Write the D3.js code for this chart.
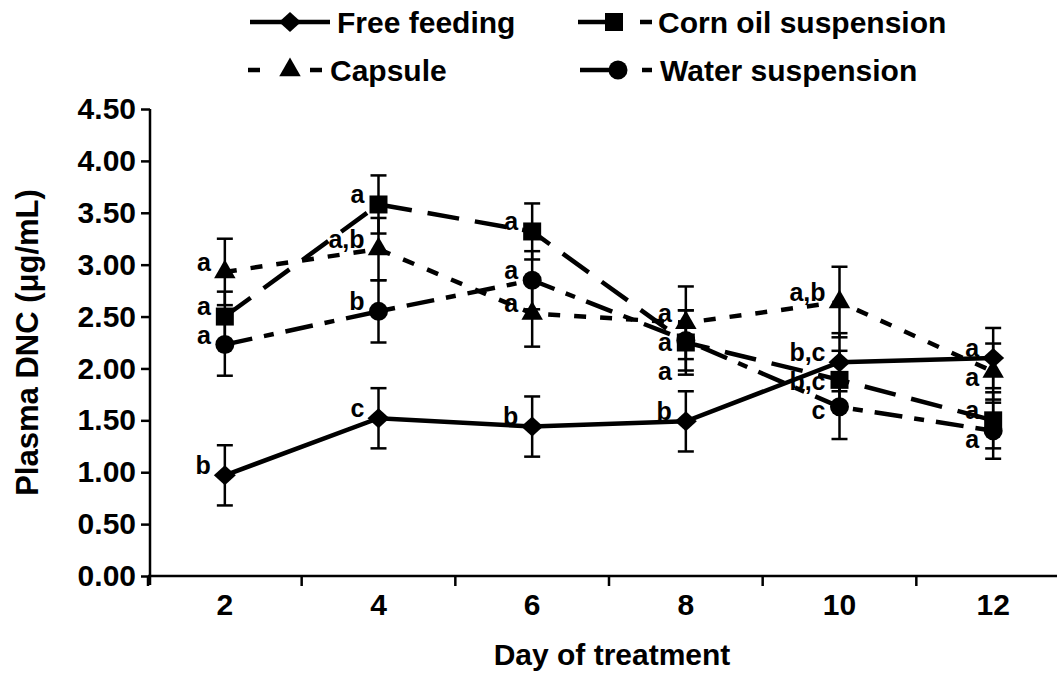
<!DOCTYPE html>
<html>
<head>
<meta charset="utf-8">
<script src="https://cdn.jsdelivr.net/npm/d3@7"></script>
<style>
    body { margin: 0; background: #fff; }
    svg text { font-family: "Liberation Sans", Arial, sans-serif; font-weight: bold; fill: #000; }
</style>
</head>
<body>
<div id="chart"></div>
<script>
// Data
const days = [2, 4, 6, 8, 10, 12];
const yTicks = [0, 0.5, 1, 1.5, 2, 2.5, 3, 3.5, 4, 4.5];

const freeFeeding = [0.97, 1.52, 1.44, 1.49, 2.06, 2.10];
const freeFeedingSE = [0.29, 0.29, 0.29, 0.29, 0.28, 0.29];
const freeFeedingLetters = ["b", "c", "b", "b", "b,c", "a"];

const cornOil = [2.50, 3.58, 3.32, 2.25, 1.89, 1.50];
const cornOilSE = [0.24, 0.28, 0.27, 0.31, 0.28, 0.27];
const cornOilLetters = ["a", "a", "a", "a", "b,c", "a"];

const capsule = [2.93, 3.15, 2.53, 2.44, 2.64, 1.97];
const capsuleSE = [0.32, 0.30, 0.32, 0.35, 0.34, 0.27];
const capsuleLetters = ["a", "a,b", "a", "a", "a,b", "a"];

const water = [2.23, 2.55, 2.85, 2.27, 1.63, 1.40];
const waterSE = [0.30, 0.30, 0.28, 0.29, 0.31, 0.27];
const waterLetters = ["a", "b", "a", "a", "c", "a"];

const seriesNames = ["Free feeding", "Corn oil suspension", "Capsule", "Water suspension"];

// build series table
const series = [
    { name: seriesNames[0], values: freeFeeding, se: freeFeedingSE, letters: freeFeedingLetters, marker: "diamond", dash: null, legendDash: null },
    { name: seriesNames[1], values: cornOil, se: cornOilSE, letters: cornOilLetters, marker: "square", dash: "32,16", legendDash: "44,18,12" },
    { name: seriesNames[2], values: capsule, se: capsuleSE, letters: capsuleLetters, marker: "triangle", dash: "12,14", legendDash: "12,50,12" },
    { name: seriesNames[3], values: water, se: waterSE, letters: waterLetters, marker: "circle", dash: "28,12,10,12", legendDash: "38,24,12" }
];

const W = 1057, H = 673;
const margin = { top: 109, right: 0, bottom: 97, left: 150 };

const svg = d3.select("#chart").append("svg")
    .attr("width", W)
    .attr("height", H);

// Scales
const x = d3.scaleBand()
    .domain(days)
    .range([148, 1070])
    .paddingInner(0);

const y = d3.scaleLinear()
    .domain([0, 4.5])
    .range([H - margin.bottom, margin.top]);

const cx = d => x(d) + x.bandwidth() / 2;

// Marker shapes
function markerPath(type) {
    if (type === "diamond") return "M0,-10L11,0L0,10L-11,0Z";
    if (type === "square") return "M-9,-9H9V9H-9Z";
    if (type === "triangle") return d3.symbol(d3.symbolTriangle, 200)();
    return d3.symbol(d3.symbolCircle, Math.PI * 9.5 * 9.5)();
}

// Axes
const yAxis = d3.axisLeft(y)
    .tickValues(yTicks)
    .tickFormat(d3.format(".2f"))
    .tickSize(9)
    .tickPadding(5);

const yG = svg.append("g")
    .attr("transform", "translate(" + margin.left + ",0)")
    .call(yAxis);
yG.select(".domain").remove();
yG.append("line")
    .attr("x1", 0).attr("x2", 0)
    .attr("y1", y(4.5)).attr("y2", y(0) + 9)
    .attr("stroke", "#000").attr("stroke-width", 2.5);
yG.selectAll(".tick line").attr("stroke-width", 2.5);
yG.selectAll(".tick text").style("font-size", "30px");

const xAxis = d3.axisBottom(x)
    .tickSize(0)
    .tickPadding(18);

const xG = svg.append("g")
    .attr("transform", "translate(0," + y(0) + ")")
    .call(xAxis);
xG.select(".domain").remove();
xG.append("line")
    .attr("x1", 148).attr("x2", 1070)
    .attr("stroke", "#000").attr("stroke-width", 2.5);
xG.selectAll(".bound")
    .data(days)
    .enter().append("line")
    .attr("class", "bound")
    .attr("x1", d => x(d)).attr("x2", d => x(d))
    .attr("y1", 0).attr("y2", 10)
    .attr("stroke", "#000").attr("stroke-width", 2.5);
xG.selectAll(".tick text").style("font-size", "30px");

// Axis titles
svg.append("text")
    .attr("x", 612)
    .attr("y", 665)
    .attr("text-anchor", "middle")
    .style("font-size", "30px")
    .text("Day of treatment");

svg.append("text")
    .attr("transform", "translate(38," + ((y(0) + y(4.5)) / 2) + ") rotate(-90)")
    .attr("text-anchor", "middle")
    .style("font-size", "31px")
    .text("Plasma DNC (μg/mL)");

// Lines
const line = d3.line()
    .x((d, i) => cx(days[i]))
    .y(d => y(d));

svg.selectAll(".series-line")
    .data(series)
    .enter().append("path")
    .attr("class", "series-line")
    .attr("d", s => line(s.values))
    .attr("fill", "none")
    .attr("stroke", "#000")
    .attr("stroke-width", 4.5)
    .attr("stroke-dasharray", s => s.dash);

// Error bars
const points = [];
series.forEach(s => {
    s.values.forEach((v, i) => {
        points.push({ s: s, day: days[i], v: v, se: s.se[i], letter: s.letters[i] });
    });
});

const err = svg.append("g").attr("class", "errors");
points.forEach(p => {
    const px = cx(p.day);
    err.append("line")
        .attr("x1", px).attr("x2", px)
        .attr("y1", y(p.v - p.se)).attr("y2", y(p.v + p.se))
        .attr("stroke", "#000").attr("stroke-width", 2.5);
    [p.v - p.se, p.v + p.se].forEach(e => {
        err.append("line")
            .attr("x1", px - 8).attr("x2", px + 8)
            .attr("y1", y(e)).attr("y2", y(e))
            .attr("stroke", "#000").attr("stroke-width", 2.5);
    });
});

// Markers
svg.selectAll(".marker")
    .data(points)
    .enter().append("path")
    .attr("class", "marker")
    .attr("d", p => markerPath(p.s.marker))
    .attr("transform", p => "translate(" + cx(p.day) + "," + y(p.v) + ")")
    .attr("fill", "#000");

// Significance letters, nudged apart per day so they don't overlap
days.forEach(day => {
    const group = points.filter(p => p.day === day)
        .map(p => ({ p: p, ty: y(p.v) - 10 }))
        .sort((a, b) => a.ty - b.ty);
    for (let i = 1; i < group.length; i++) {
        if (group[i].ty < group[i - 1].ty + 29) group[i].ty = group[i - 1].ty + 29;
    }
    group.forEach(g => {
        svg.append("text")
            .attr("x", cx(day) - 14)
            .attr("y", g.ty)
            .attr("dy", "0.35em")
            .attr("text-anchor", "end")
            .style("font-size", "25px")
            .text(g.p.letter);
    });
});

// Legend
const legendPos = [
    { x0: 250, x1: 330, mx: 290, tx: 337, y: 22 },
    { x0: 578, x1: 652, mx: 614, tx: 658, y: 22 },
    { x0: 248, x1: 322, mx: 290, tx: 330, y: 70 },
    { x0: 580, x1: 652, mx: 618, tx: 660, y: 70 }
];

const legend = svg.append("g").attr("class", "legend");
series.forEach((s, i) => {
    const lp = legendPos[i];
    legend.append("line")
        .attr("x1", lp.x0).attr("x2", lp.x1)
        .attr("y1", lp.y).attr("y2", lp.y)
        .attr("stroke", "#000")
        .attr("stroke-width", 4.5)
        .attr("stroke-dasharray", s.legendDash);
    legend.append("path")
        .attr("d", markerPath(s.marker))
        .attr("transform", "translate(" + lp.mx + "," + lp.y + ")")
        .attr("fill", "#000");
    legend.append("text")
        .attr("x", lp.tx)
        .attr("y", lp.y)
        .attr("dy", "0.36em")
        .style("font-size", "30px")
        .text(s.name);
});
</script>
</body>
</html>
